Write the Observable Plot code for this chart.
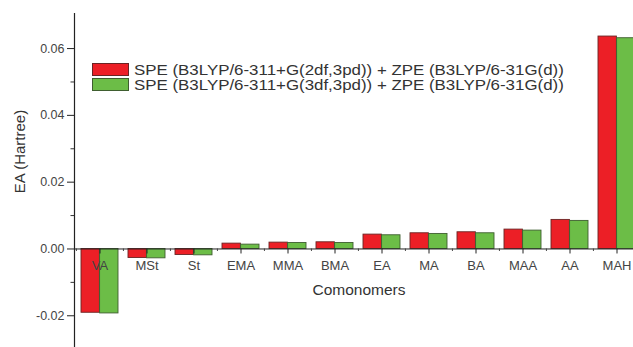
<!DOCTYPE html>
<html>
<head>
<meta charset="utf-8">
<script src="https://cdn.jsdelivr.net/npm/d3@7"></script>
<script src="https://cdn.jsdelivr.net/npm/@observablehq/plot@0.6"></script>
<style>
  html, body { margin: 0; padding: 0; background: #fff; overflow: hidden; }
  #wrap { position: relative; width: 633px; height: 347px; font-family: "Liberation Sans", Arial, sans-serif; }
  #legend { position: absolute; left: 92px; top: 62px; font-size: 14.2px; color: #333; }
  #legend .row { display: flex; align-items: center; height: 15px; white-space: nowrap; }
  #legend .sw { width: 37px; height: 13.5px; border: 1px solid; margin-right: 5px; box-sizing: border-box; flex: none; }
  #legend .lbl { display: inline-block; line-height: 14px; transform: scaleX(1.19); transform-origin: left center; }
</style>
</head>
<body>
<div id="wrap"><div id="legend"></div></div>
<script>
// Electron affinity of each comonomer at two basis-set levels
const comonomers = ["VA", "MSt", "St", "EMA", "MMA", "BMA", "EA", "MA", "BA", "MAA", "AA", "MAH"];
const ea2df = [-0.0191, -0.0027, -0.0018, 0.0016, 0.0019, 0.0020, 0.0043, 0.0047, 0.0050, 0.0058, 0.0087, 0.0636];
const ea3df = [-0.0193, -0.0028, -0.0019, 0.0013, 0.0018, 0.0018, 0.0041, 0.0045, 0.0047, 0.0055, 0.0084, 0.0631];
const seriesNames = [
  "SPE (B3LYP/6-311+G(2df,3pd)) + ZPE (B3LYP/6-31G(d))",
  "SPE (B3LYP/6-311+G(3df,3pd)) + ZPE (B3LYP/6-31G(d))"
];
const majorTicks = [-0.02, 0, 0.02, 0.04, 0.06];
const minorTicks = [-0.01, 0.01, 0.03, 0.05];

const colors = { fill: ["#ec1f26", "#6cbd47"], stroke: ["#6a2424", "#3f5e30"] };

const rows2df = comonomers.map((c, i) => ({ c, v: ea2df[i] }));
const rows3df = comonomers.map((c, i) => ({ c, v: ea3df[i] }));

const marginLeft = 74, marginRight = -10, width = 633;
const paddingInner = 0.211, paddingOuter = 0.14;
const step = (width - marginLeft - marginRight) / (comonomers.length - paddingInner + 2 * paddingOuter);
const half = step * (1 - paddingInner) / 2;

const chart = Plot.plot({
  width, height: 347,
  marginLeft, marginRight, marginTop: 13, marginBottom: 0,
  style: { fontFamily: "Liberation Sans, Arial, sans-serif", background: "transparent", overflow: "visible" },
  x: { domain: comonomers, paddingInner, paddingOuter, axis: null },
  y: { domain: [-0.0295, 0.0705], axis: null },
  marks: [
    Plot.barY(rows2df, { x: "c", y: "v", fill: colors.fill[0], stroke: colors.stroke[0], strokeWidth: 0.9, insetRight: half }),
    Plot.barY(rows3df, { x: "c", y: "v", fill: colors.fill[1], stroke: colors.stroke[1], strokeWidth: 0.9, insetLeft: half }),
    // zero baseline acting as the category axis
    Plot.ruleY([0], { stroke: "#222", strokeWidth: 1 }),
    // category ticks and the small ticks between groups
    Plot.ruleX(comonomers, { x: d => d, y1: 0, y2: 0, insetBottom: -5, stroke: "#222" }),
    Plot.ruleX(comonomers, { x: d => d, y1: 0, y2: 0, insetBottom: -2.5, dx: -step / 2, stroke: "#444" }),
    Plot.text(comonomers, { x: d => d, y: 0, text: d => d, dy: 17, fontSize: 13, fill: "#444" }),
    Plot.text(["Comonomers"], { frameAnchor: "middle", y: 0, text: d => d, dy: 41, fontSize: 15.5, fill: "#333" }),
    // y axis
    Plot.axisY(majorTicks, { label: null, tickSize: 7, tickPadding: 3, tickFormat: d => d.toFixed(2), fontSize: 12.5, color: "#444", stroke: "#222" }),
    Plot.axisY(minorTicks, { label: null, tickSize: 3.5, text: null, stroke: "#333" }),
    Plot.frame({ anchor: "left", stroke: "#222", strokeWidth: 1.2 }),
    Plot.text(["EA (Hartree)"], { frameAnchor: "left", y: 0.0167, dx: -54, rotate: -90, text: d => d, fontSize: 15, fill: "#333" })
  ]
});

const wrap = document.getElementById("wrap");
wrap.insertBefore(chart, wrap.firstChild);

const legend = document.getElementById("legend");
seriesNames.forEach((name, i) => {
  const row = document.createElement("div");
  row.className = "row";
  const sw = document.createElement("div");
  sw.className = "sw";
  sw.style.background = colors.fill[i];
  sw.style.borderColor = colors.stroke[i];
  const lbl = document.createElement("span");
  lbl.className = "lbl";
  lbl.textContent = name;
  row.appendChild(sw);
  row.appendChild(lbl);
  legend.appendChild(row);
});
</script>
</body>
</html>
